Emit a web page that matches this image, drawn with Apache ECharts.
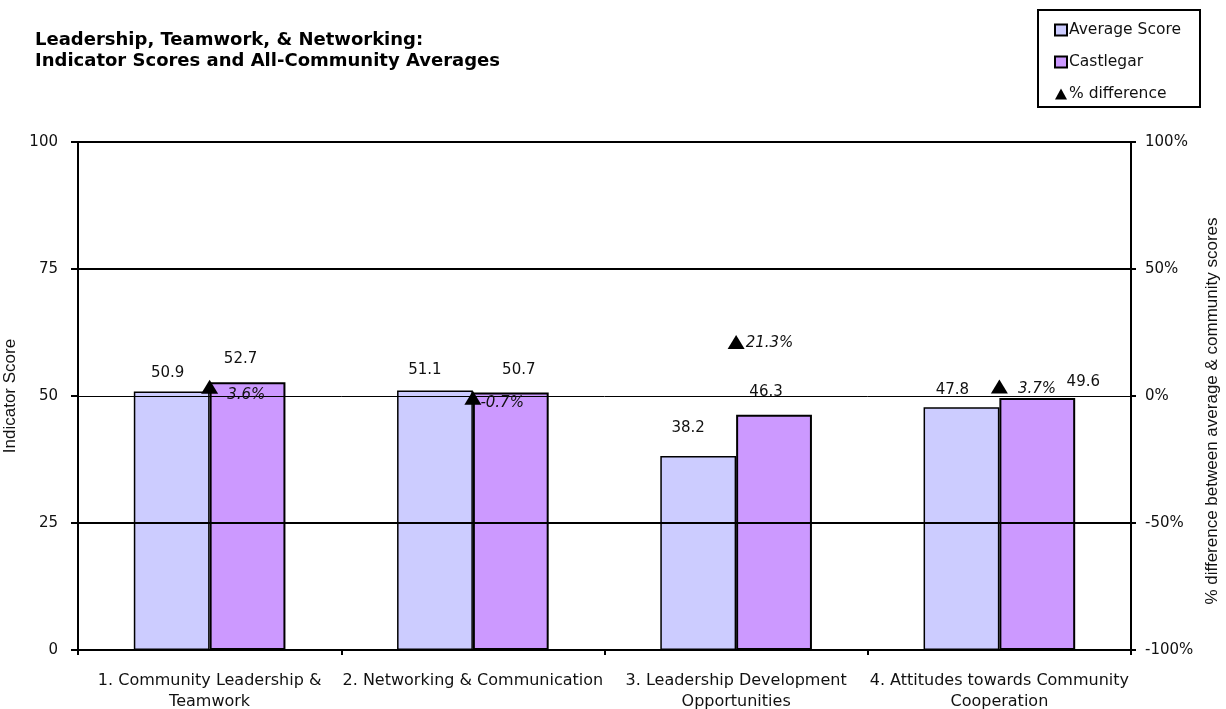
<!DOCTYPE html>
<html>
<head>
<meta charset="utf-8">
<title>Leadership, Teamwork, &amp; Networking</title>
<script src="https://cdn.jsdelivr.net/npm/echarts@6/dist/echarts.min.js"></script>
<style>
  html, body { margin: 0; padding: 0; background: #ffffff; }
  #chart { width: 1226px; height: 709px; }
</style>
</head>
<body>
<div id="chart"></div>
<script>
// Indicator categories (line breaks as they wrap under the axis)
const categories = [
  '1. Community Leadership &\nTeamwork',
  '2. Networking & Communication',
  '3. Leadership Development\nOpportunities',
  '4. Attitudes towards Community\nCooperation'
];
// All-community average indicator scores
const averageScores = [50.9, 51.1, 38.2, 47.8];
// Castlegar indicator scores
const castlegarScores = [52.7, 50.7, 46.3, 49.6];
// % difference between average and community scores
const pctDifference = [3.6, -0.7, 21.3, 3.7];
// Left axis gridlines (value, line width)
const scoreGridValues = [100, 75, 50, 25];
const scoreGridWidths = [2, 2, 1, 2];

// Hand-placed label nudges, in pixels
const avgLabelNudge = [[-4, -6], [-10, -8], [-10, -15], [-9, -5]];
const castLabelNudge = [[-7, -11], [8, -10], [-8, -10], [46, -3]];
const diffLabelNudge = [[5, 8], [-5, 5], [-3, 1], [6, 3]];

const FONT = 'DejaVu Sans, Verdana, sans-serif';
const NARROW = '"Liberation Sans Narrow", "Liberation Sans", Arial, sans-serif';
const TEXT = '#111';

function barData(values, nudges) {
  return values.map((v, i) => ({
    value: v,
    label: { offset: nudges[i] }
  }));
}

const chart = echarts.init(document.getElementById('chart'), null, { renderer: 'canvas' });

chart.setOption({
  backgroundColor: '#ffffff',
  animation: false,
  textStyle: { fontFamily: FONT },
  title: {
    text: 'Leadership, Teamwork, & Networking:\nIndicator Scores and All-Community Averages',
    left: 30,
    top: 25,
    textStyle: {
      fontFamily: FONT,
      fontSize: 18,
      fontWeight: 'bold',
      color: '#000',
      lineHeight: 21
    }
  },
  legend: {
    orient: 'vertical',
    left: 1054,
    top: 22,
    itemWidth: 12,
    itemHeight: 11,
    itemGap: 16,
    padding: 0,
    textStyle: { fontFamily: FONT, fontSize: 15.5, color: TEXT, padding: [0, 0, 0, -3] },
    data: [
      { name: 'Average Score', icon: 'rect' },
      { name: 'Castlegar', icon: 'rect' },
      { name: '% difference', icon: 'triangle' }
    ]
  },
  graphic: [{
    type: 'rect',
    shape: { x: 1038, y: 10, width: 162, height: 97 },
    style: { fill: 'none', stroke: '#000', lineWidth: 2 },
    silent: true
  }],
  grid: {
    left: 78,
    right: 95,
    top: 142,
    bottom: 59,
    containLabel: false,
    outerBoundsMode: 'none'
  },
  xAxis: {
    type: 'category',
    data: categories,
    axisLine: { show: true, lineStyle: { color: '#000', width: 2 } },
    axisTick: { show: true, alignWithLabel: false, length: 5, lineStyle: { color: '#000', width: 2 } },
    axisLabel: {
      interval: 0,
      margin: 20,
      fontFamily: FONT,
      fontSize: 16,
      color: TEXT,
      lineHeight: 21,
      align: 'center'
    },
    splitLine: { show: false }
  },
  yAxis: [
    {
      type: 'value',
      min: 0,
      max: 100,
      interval: 25,
      name: 'Indicator Score',
      nameLocation: 'middle',
      nameGap: 51,
      nameTextStyle: { fontFamily: NARROW, fontSize: 17, color: TEXT },
      axisLine: { show: true, lineStyle: { color: '#000', width: 2 } },
      axisTick: { show: true, length: 7, lineStyle: { color: '#000', width: 2 } },
      axisLabel: { margin: 20, fontFamily: FONT, fontSize: 15, color: TEXT },
      splitLine: { show: false }
    },
    {
      type: 'value',
      min: -100,
      max: 100,
      interval: 50,
      position: 'right',
      name: '% difference between average & community scores',
      nameLocation: 'middle',
      nameGap: 72,
      nameRotate: 90,
      nameTextStyle: { fontFamily: NARROW, fontSize: 17, color: TEXT, padding: [0, 30, 0, 0] },
      axisLine: { show: true, lineStyle: { color: '#000', width: 2 } },
      axisTick: { show: true, length: 5, lineStyle: { color: '#000', width: 2 } },
      axisLabel: { margin: 14, fontFamily: FONT, fontSize: 15, color: TEXT, formatter: '{value}%' },
      splitLine: { show: false }
    }
  ],
  series: [
    {
      // horizontal gridlines on the score scale, drawn beneath the bars
      name: 'grid',
      type: 'line',
      yAxisIndex: 0,
      data: [],
      z: 0,
      silent: true,
      markLine: {
        silent: true,
        symbol: 'none',
        label: { show: false },
        data: scoreGridValues.map((v, i) => ({
          yAxis: v,
          lineStyle: { color: '#000', width: scoreGridWidths[i], type: 'solid' }
        }))
      }
    },
    {
      name: 'Average Score',
      type: 'bar',
      yAxisIndex: 0,
      data: barData(averageScores, avgLabelNudge),
      barGap: '0%',
      barCategoryGap: '42.4%',
      z: 2,
      itemStyle: { color: '#CCCCFF', borderColor: '#000', borderWidth: 1.5 },
      label: {
        show: true,
        position: 'top',
        fontFamily: FONT,
        fontSize: 15,
        color: TEXT,
        formatter: p => p.value.toFixed(1)
      }
    },
    {
      name: 'Castlegar',
      type: 'bar',
      yAxisIndex: 0,
      data: barData(castlegarScores, castLabelNudge),
      barGap: '0%',
      barCategoryGap: '42.4%',
      z: 2,
      itemStyle: { color: '#CC99FF', borderColor: '#000', borderWidth: 2 },
      label: {
        show: true,
        position: 'top',
        fontFamily: FONT,
        fontSize: 15,
        color: TEXT,
        formatter: p => p.value.toFixed(1)
      }
    },
    {
      name: '% difference',
      type: 'scatter',
      yAxisIndex: 1,
      symbol: 'triangle',
      symbolSize: [17, 14],
      z: 5,
      itemStyle: { color: '#000', opacity: 1 },
      data: pctDifference.map((v, i) => ({ value: v, label: { offset: diffLabelNudge[i] } })),
      label: {
        show: true,
        position: 'right',
        distance: 4,
        fontFamily: FONT,
        fontSize: 15,
        fontStyle: 'italic',
        color: TEXT,
        formatter: p => p.value.toFixed(1) + '%'
      }
    }
  ]
});
</script>
</body>
</html>
